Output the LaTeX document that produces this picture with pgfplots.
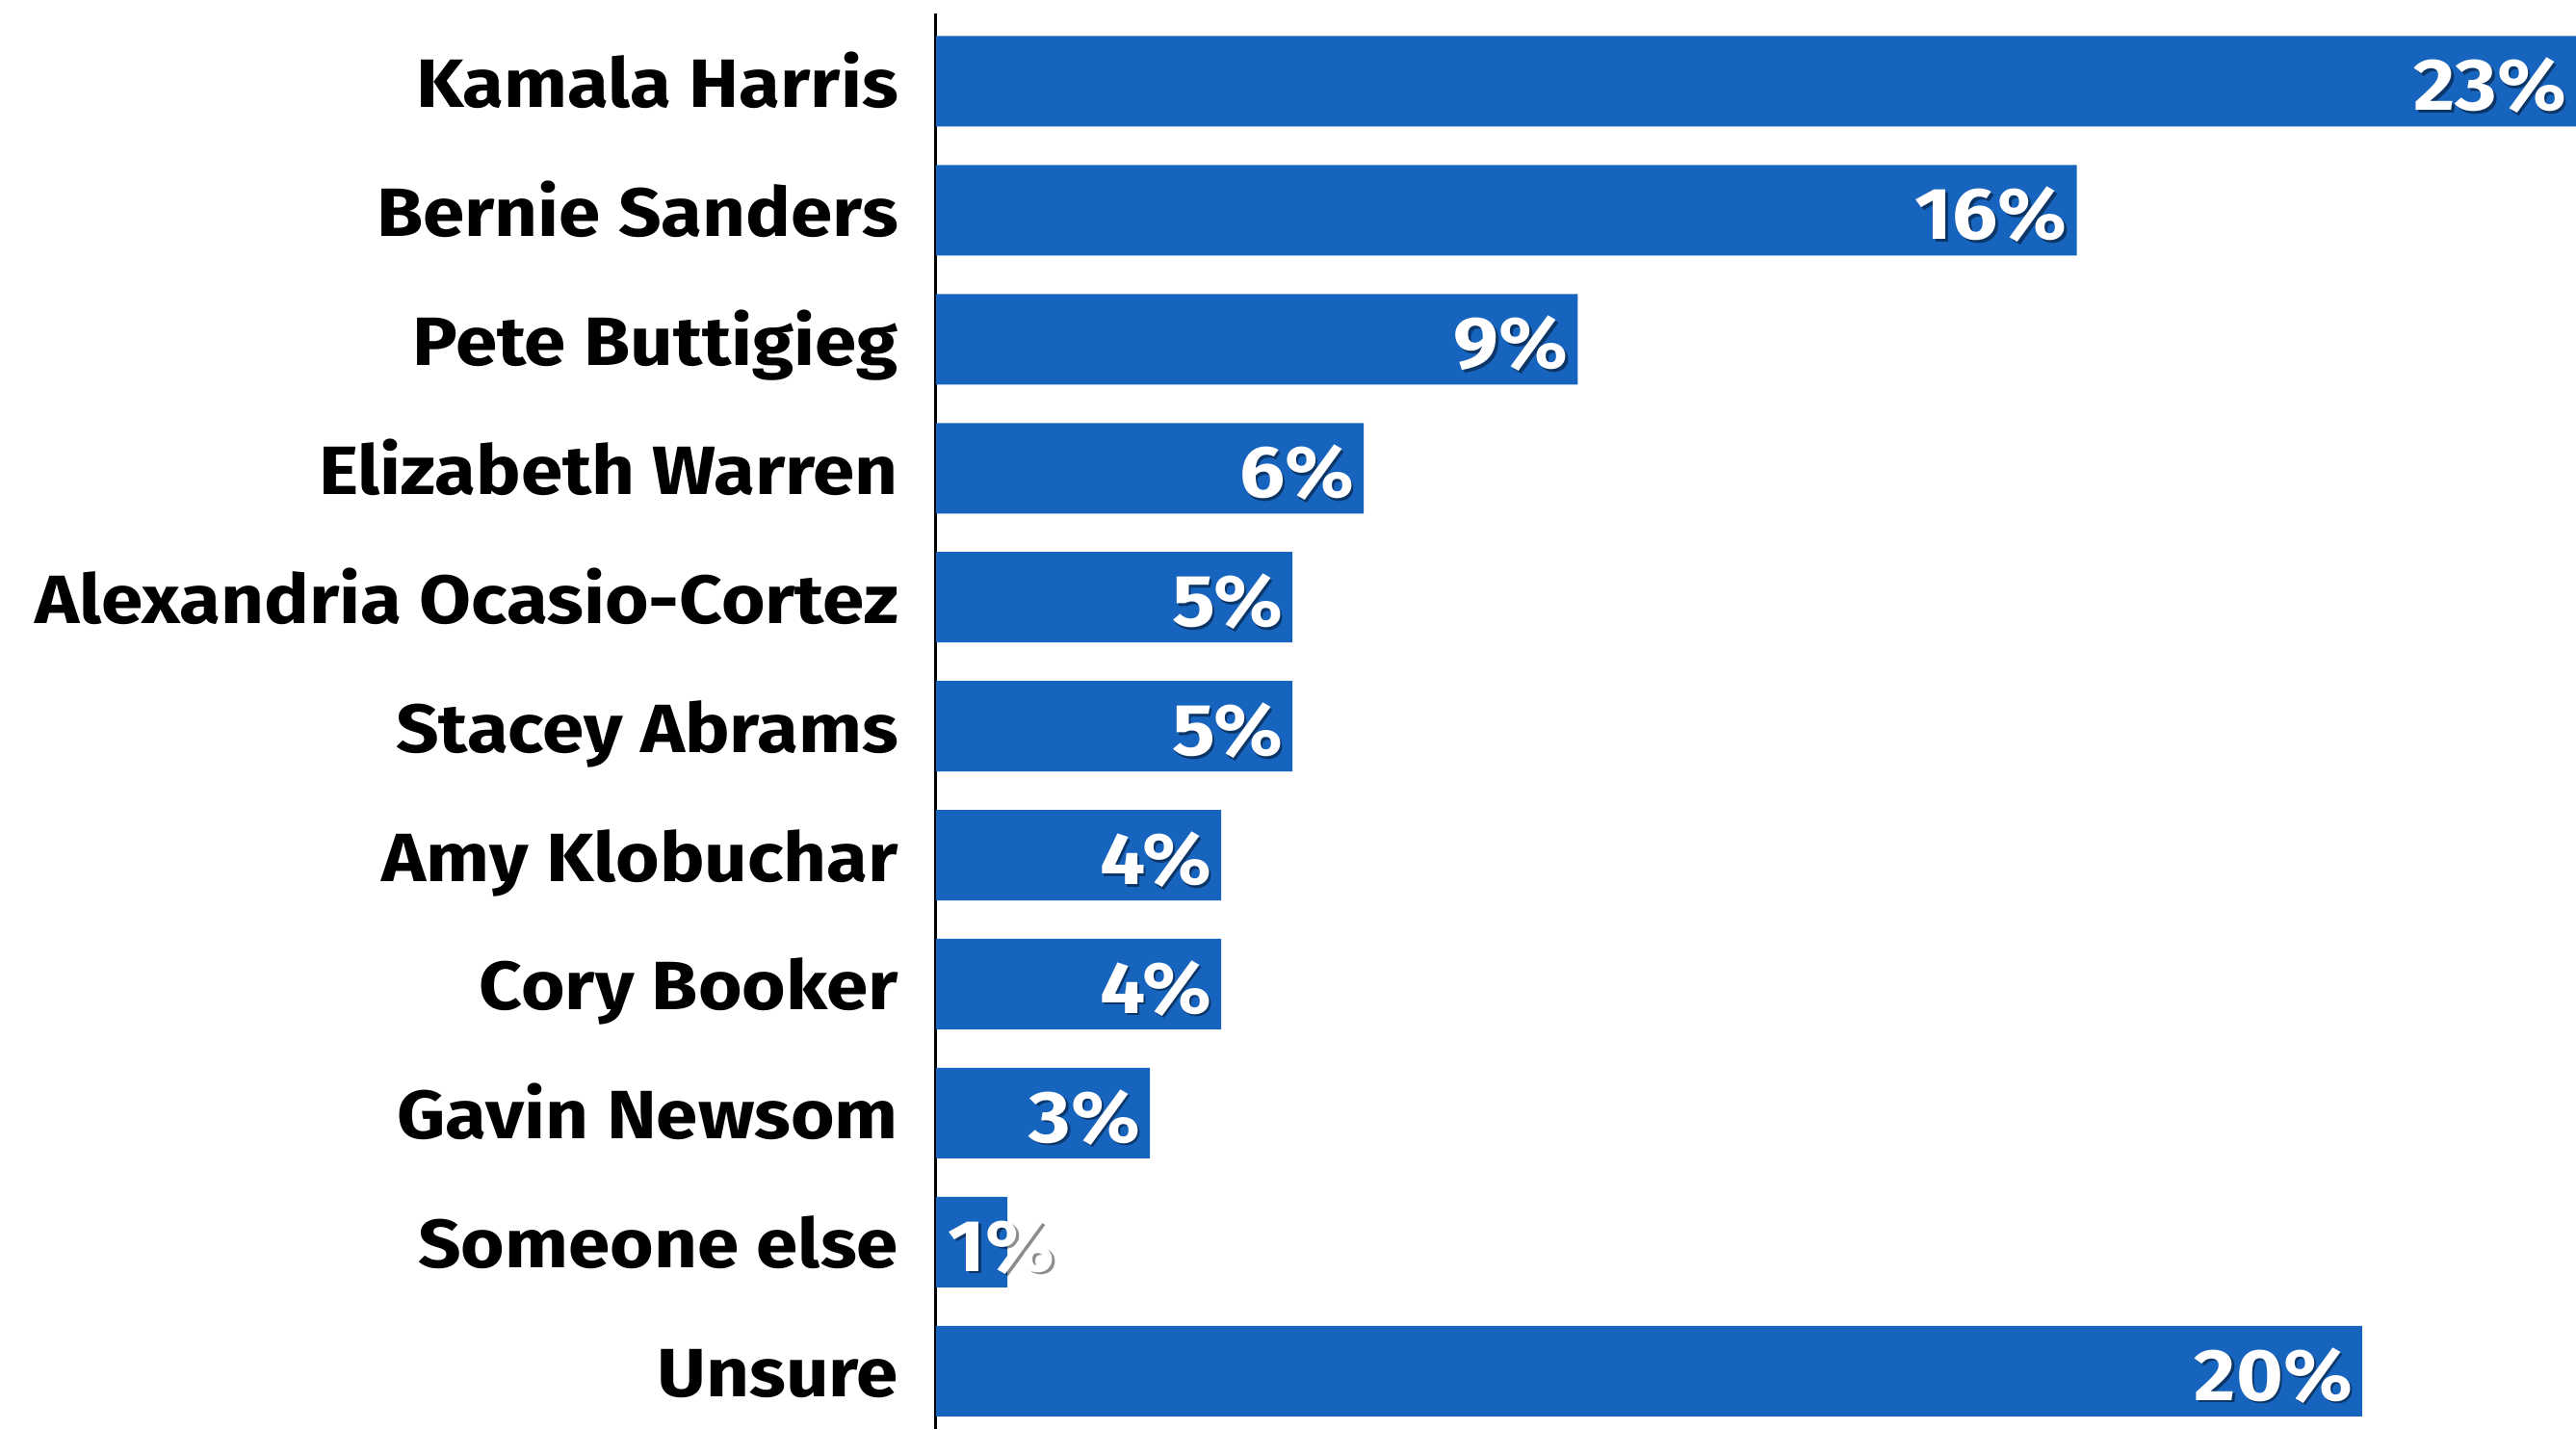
\documentclass[border=0pt]{standalone}
\usepackage{fontspec}
\setmainfont{Fira Sans}[FakeStretch=1.1]
\usepackage{pgfplots}
\pgfplotsset{compat=1.18}
\definecolor{barblue}{HTML}{1764BE}
\begin{document}
\begin{tikzpicture}
\begin{axis}[
  at={(0,0)}, anchor=south west,
  scale only axis, width=170.3pt, height=147pt,
  xmin=0, xmax=23, ymin=-0.526, ymax=10.45, y dir=reverse,
  axis x line=none, axis y line*=left,
  y axis line style={-, line width=0.3pt, black},
  xtick=\empty, ytick={0,1,2,3,4,5,6,7,8,9,10},
  yticklabels={Kamala Harris, Bernie Sanders, Pete Buttigieg, Elizabeth Warren, Alexandria Ocasio-Cortez, Stacey Abrams, Amy Klobuchar, Cory Booker, Gavin Newsom, Someone else, Unsure},
  major tick length=0pt,
  yticklabel style={anchor=base east, inner sep=0pt, xshift=-3.7pt, yshift=-2.7pt, font=\fontsize{7.1}{9}\selectfont\bfseries},
  /pgf/number format/assume math mode=true,
  clip=false,
]
\addplot[xbar, bar width=9.4pt, fill=barblue, draw=none] coordinates {
  (23,0) (16,1) (9,2) (6,3) (5,4) (5,5) (4,6) (4,7) (3,8) (1,9) (20,10)
};
% shadows
\addplot[draw=none, mark=none, point meta=x,
  nodes near coords={\pgfmathprintnumber[fixed,precision=0]{\pgfplotspointmeta}\%},
  nodes near coords style={anchor=base east, inner sep=0pt, xshift=-0.55pt, yshift=-3.3pt, text=black, opacity=0.45, font=\fontsize{7.6}{9}\selectfont\bfseries}]
  coordinates {(23,0) (16,1) (9,2) (6,3) (5,4) (5,5) (4,6) (4,7) (3,8) (20,10)};
\addplot[draw=none, mark=none, point meta=explicit,
  nodes near coords={\pgfmathprintnumber[fixed,precision=0]{\pgfplotspointmeta}\%},
  nodes near coords style={anchor=base west, inner sep=0pt, xshift=1.35pt, yshift=-3.3pt, text=black, opacity=0.45, font=\fontsize{7.6}{9}\selectfont\bfseries}]
  coordinates {(0,9) [1]};
% labels
\addplot[draw=none, mark=none, point meta=x,
  nodes near coords={\pgfmathprintnumber[fixed,precision=0]{\pgfplotspointmeta}\%},
  nodes near coords style={anchor=base east, inner sep=0pt, xshift=-0.8pt, yshift=-3.05pt, text=white, font=\fontsize{7.6}{9}\selectfont\bfseries}]
  coordinates {(23,0) (16,1) (9,2) (6,3) (5,4) (5,5) (4,6) (4,7) (3,8) (20,10)};
\addplot[draw=none, mark=none, point meta=explicit,
  nodes near coords={\pgfmathprintnumber[fixed,precision=0]{\pgfplotspointmeta}\%},
  nodes near coords style={anchor=base west, inner sep=0pt, xshift=1.1pt, yshift=-3.05pt, text=white, font=\fontsize{7.6}{9}\selectfont\bfseries}]
  coordinates {(0,9) [1]};
\end{axis}
\pgfresetboundingbox
\path (-97.2pt,0pt) rectangle (170.3pt,148.4pt);
\end{tikzpicture}
\end{document}
